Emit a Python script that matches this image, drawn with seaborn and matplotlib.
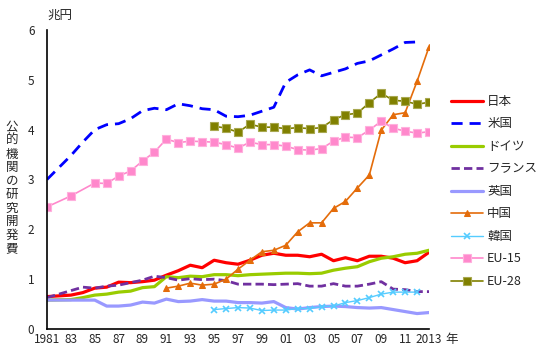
import matplotlib
matplotlib.use("Agg")
import matplotlib.pyplot as plt
import seaborn as sns

# ---- data ----
years_main = [1981] + list(range(1983, 2014))
japan = [0.65, 0.68, 0.73, 0.82, 0.84, 0.94, 0.93, 0.95, 0.98, 1.08, 1.17, 1.28, 1.23,
         1.38, 1.33, 1.30, 1.38, 1.48, 1.52, 1.48, 1.48, 1.45, 1.50, 1.37, 1.43, 1.37,
         1.46, 1.46, 1.42, 1.33, 1.37, 1.54]
years_us = [1981] + list(range(1983, 2013))
usa = [3.00, 3.48, 3.75, 4.00, 4.10, 4.12, 4.22, 4.38, 4.43, 4.40, 4.52, 4.48, 4.42,
       4.40, 4.27, 4.26, 4.29, 4.37, 4.45, 4.95, 5.10, 5.20, 5.08, 5.15, 5.22, 5.33,
       5.38, 5.50, 5.62, 5.75, 5.76]
germany = [0.58, 0.59, 0.63, 0.68, 0.70, 0.74, 0.76, 0.83, 0.85, 1.05, 1.03, 1.06, 1.05,
           1.09, 1.09, 1.07, 1.09, 1.10, 1.11, 1.12, 1.12, 1.11, 1.12, 1.18, 1.22, 1.25,
           1.35, 1.42, 1.45, 1.50, 1.52, 1.58]
france = [0.63, 0.77, 0.84, 0.82, 0.86, 0.88, 0.93, 0.98, 1.06, 1.03, 0.98, 1.01, 0.99,
          1.00, 0.97, 0.90, 0.90, 0.90, 0.89, 0.90, 0.91, 0.86, 0.86, 0.91, 0.86, 0.86,
          0.90, 0.95, 0.80, 0.79, 0.75, 0.75]
uk = [0.58, 0.58, 0.58, 0.58, 0.46, 0.46, 0.48, 0.54, 0.52, 0.60, 0.55, 0.56, 0.59,
      0.56, 0.56, 0.53, 0.53, 0.52, 0.55, 0.43, 0.40, 0.43, 0.45, 0.46, 0.45, 0.43,
      0.42, 0.43, 0.39, 0.35, 0.31, 0.33]
years_china = list(range(1991, 2014))
china = [0.82, 0.86, 0.92, 0.88, 0.90, 1.00, 1.20, 1.38, 1.55, 1.58, 1.68, 1.95, 2.13,
         2.13, 2.42, 2.56, 2.83, 3.09, 3.99, 4.30, 4.34, 4.97, 5.66]
years_korea = list(range(1995, 2013))
korea = [0.39, 0.41, 0.43, 0.42, 0.37, 0.38, 0.38, 0.41, 0.41, 0.45, 0.46, 0.53, 0.57,
         0.63, 0.70, 0.74, 0.74, 0.74]
years_eu15 = [1981, 1983] + list(range(1985, 2014))
eu15 = [2.45, 2.67, 2.93, 2.92, 3.07, 3.17, 3.37, 3.55, 3.81, 3.74, 3.77, 3.76, 3.75,
        3.70, 3.63, 3.75, 3.70, 3.70, 3.67, 3.60, 3.59, 3.62, 3.77, 3.85, 3.84, 3.99,
        4.17, 4.03, 3.97, 3.93, 3.96]
years_eu28 = list(range(1995, 2014))
eu28 = [4.07, 4.03, 3.95, 4.11, 4.05, 4.05, 4.02, 4.04, 4.02, 4.04, 4.20, 4.30, 4.33,
        4.54, 4.73, 4.59, 4.57, 4.51, 4.55]

xtick_years = list(range(1981, 2014))
xtick_labels = [("1981" if y == 1981 else "2013" if y == 2013 else (f"{y % 100:02d}" if y % 2 == 1 else ""))
                for y in xtick_years]
ylabel_text = "公的機関の研究開発費"

# ---- style ----
sns.set_style("white")
plt.rcParams['font.family'] = ['Noto Sans CJK JP', 'DejaVu Sans']

fig = plt.figure(figsize=(5.37, 3.5), dpi=100)
ax = fig.add_axes([47 / 537, 21 / 350, (429 - 47) / 537, (329 - 30) / 350])

sns.lineplot(x=years_main, y=japan, ax=ax, color="#ff0000", lw=2.3, label="日本")
sns.lineplot(x=years_us, y=usa, ax=ax, color="#0000ff", lw=2.0,
             linestyle=(0, (4, 2.5)), label="米国")
sns.lineplot(x=years_main, y=germany, ax=ax, color="#99cc00", lw=2.3, label="ドイツ")
sns.lineplot(x=years_main, y=france, ax=ax, color="#7030a0", lw=2.0,
             linestyle=(0, (3, 1.5)), label="フランス")
sns.lineplot(x=years_main, y=uk, ax=ax, color="#9999ff", lw=2.3, label="英国")
sns.lineplot(x=years_china, y=china, ax=ax, color="#e46c0a", lw=1.2, marker="^",
             markersize=5, markeredgecolor="#e46c0a", label="中国")
sns.lineplot(x=years_korea, y=korea, ax=ax, color="#55ccff", lw=1.0, marker="x",
             markersize=4.5, markeredgewidth=1.2, markeredgecolor="#55ccff", label="韓国")
sns.lineplot(x=years_eu15, y=eu15, ax=ax, color="#ff88cc", lw=1.2, marker="s",
             markersize=5.5, markerfacecolor="#ff88cc", markeredgecolor="#ffb0dd",
             markeredgewidth=0.8, label="EU-15")
sns.lineplot(x=years_eu28, y=eu28, ax=ax, color="#808000", lw=1.2, marker="s",
             markersize=5.5, markerfacecolor="#808000", markeredgecolor="#a8a850",
             markeredgewidth=0.8, label="EU-28")

ax.set_xlim(1981, 2013)
ax.set_ylim(0, 6)
ax.set_xticks(xtick_years)
ax.set_xticklabels(xtick_labels)
ax.set_yticks(range(0, 7))
ax.tick_params(axis="x", direction="in", length=4, width=1, pad=3, labelsize=8.5, color="black")
ax.tick_params(axis="y", direction="in", length=4, width=1, pad=9, labelsize=8.5, color="black")
for s in ["top", "right"]:
    ax.spines[s].set_visible(False)
for s in ["left", "bottom"]:
    ax.spines[s].set_color("black")
    ax.spines[s].set_linewidth(1.2)
ax.set_xlabel("")
ax.set_ylabel("")

ax.get_legend().remove()
handles, labels = ax.get_legend_handles_labels()
fig.legend(handles, labels, loc="upper left", bbox_to_anchor=(451 / 537, 1 - 95 / 350),
           frameon=False, fontsize=9, handlelength=2.6, handletextpad=0.3,
           labelspacing=0.76, borderaxespad=0, borderpad=0, numpoints=1)

fig.text(47 / 537, 1 - 15 / 350, "兆円", ha="left", va="center", fontsize=9)
fig.text(452 / 537, 1 - 340 / 350, "年", ha="center", va="center", fontsize=9)
fig.text(12 / 537, 1 - 188 / 350, "\n".join(ylabel_text), ha="center", va="center",
         fontsize=9, linespacing=1.05)

fig.savefig("out.png", dpi=100)
